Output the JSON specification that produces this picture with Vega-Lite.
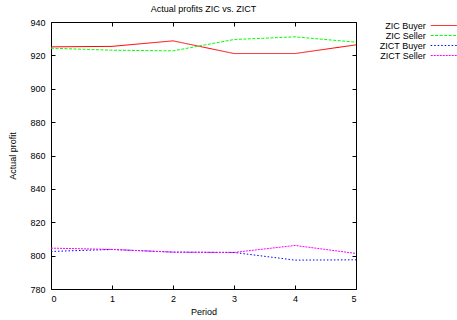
{
  "$schema": "https://vega.github.io/schema/vega-lite/v6.json",
  "autosize": {"type": "none"},
  "padding": {"left": 51, "top": 22, "right": 101, "bottom": 31},
  "width": 305,
  "height": 267,
  "title": {"text": "Actual profits ZIC vs. ZICT", "fontSize": 9, "fontWeight": "normal", "font": "Liberation Sans", "color": "black", "frame": "group", "anchor": "middle", "offset": 4},
  "data": {"values": [
    {"period": 0, "series": "ZIC Buyer", "profit": 925.1},
    {"period": 1, "series": "ZIC Buyer", "profit": 925.4},
    {"period": 2, "series": "ZIC Buyer", "profit": 928.7},
    {"period": 3, "series": "ZIC Buyer", "profit": 921.1},
    {"period": 4, "series": "ZIC Buyer", "profit": 921.1},
    {"period": 5, "series": "ZIC Buyer", "profit": 926.3},
    {"period": 0, "series": "ZIC Seller", "profit": 924.3},
    {"period": 1, "series": "ZIC Seller", "profit": 923.1},
    {"period": 2, "series": "ZIC Seller", "profit": 922.7},
    {"period": 3, "series": "ZIC Seller", "profit": 929.5},
    {"period": 4, "series": "ZIC Seller", "profit": 931.1},
    {"period": 5, "series": "ZIC Seller", "profit": 927.9},
    {"period": 0, "series": "ZICT Buyer", "profit": 802.5},
    {"period": 1, "series": "ZICT Buyer", "profit": 803.7},
    {"period": 2, "series": "ZICT Buyer", "profit": 802.1},
    {"period": 3, "series": "ZICT Buyer", "profit": 801.9},
    {"period": 4, "series": "ZICT Buyer", "profit": 797.3},
    {"period": 5, "series": "ZICT Buyer", "profit": 797.5},
    {"period": 0, "series": "ZICT Seller", "profit": 804.5},
    {"period": 1, "series": "ZICT Seller", "profit": 803.7},
    {"period": 2, "series": "ZICT Seller", "profit": 802.1},
    {"period": 3, "series": "ZICT Seller", "profit": 801.9},
    {"period": 4, "series": "ZICT Seller", "profit": 806.1},
    {"period": 5, "series": "ZICT Seller", "profit": 801.3}
  ]},
  "layer": [
    {
      "mark": {"type": "line", "strokeWidth": 1},
      "encoding": {
        "x": {"field": "period", "type": "quantitative", "scale": {"domain": [0, 5], "nice": false, "zero": false},
              "axis": {"orient": "bottom", "title": "Period", "values": [0, 1, 2, 3, 4, 5], "format": "d", "grid": false, "domain": false, "ticks": false, "tickSize": 0, "labelPadding": 5, "titlePadding": 4}},
        "y": {"field": "profit", "type": "quantitative", "scale": {"domain": [780, 940], "nice": false, "zero": false},
              "axis": {"orient": "left", "title": "Actual profit", "values": [780, 800, 820, 840, 860, 880, 900, 920, 940], "format": "d", "grid": false, "domain": false, "ticks": false, "tickSize": 0, "labelPadding": 6, "titlePadding": 12}},
        "stroke": {"field": "series", "type": "nominal",
                  "scale": {"domain": ["ZIC Buyer", "ZIC Seller", "ZICT Buyer", "ZICT Seller"], "range": ["#ff0000", "#00ff00", "#0000ff", "#ff00ff"]},
                  "legend": {"orient": "none", "legendX": 388.2, "legendY": -1, "title": null, "labelAlign": "right", "labelOffset": -22.5, "symbolType": "M-3.25,0H3.25", "symbolSize": 64, "symbolStrokeWidth": 1, "rowPadding": 0, "labelFontSize": 9, "labelFont": "Liberation Sans", "labelColor": "black", "padding": 0,
                             "symbolStrokeColor": {"expr": "scale('stroke', datum.value)"},
                             "encode": {"symbols": {"update": {"stroke": {"signal": "scale('stroke', datum.value)"}, "strokeDash": {"scale": "strokeDash", "field": "value"}}}}}},
        "strokeDash": {"field": "series", "type": "nominal",
                  "scale": {"domain": ["ZIC Buyer", "ZIC Seller", "ZICT Buyer", "ZICT Seller"], "range": [[1, 0], [3, 1.5], [1.5, 2], [2, 1]]},
                  "legend": null}
      }
    },
    {
      "mark": {"type": "point", "opacity": 0},
      "encoding": {
        "x": {"field": "period", "type": "quantitative", "axis": {"orient": "top", "offset": -267, "title": null, "labels": false, "values": [0, 1, 2, 3, 4, 5], "grid": false, "domain": false, "tickSize": 4}},
        "y": {"field": "profit", "type": "quantitative", "axis": {"orient": "right", "offset": -305, "title": null, "labels": false, "values": [780, 800, 820, 840, 860, 880, 900, 920, 940], "grid": false, "domain": false, "tickSize": 4}}
      }
    },
    {
      "mark": {"type": "point", "opacity": 0},
      "encoding": {
        "x": {"field": "period", "type": "quantitative", "axis": {"orient": "bottom", "offset": -267, "title": null, "labels": false, "values": [0, 1, 2, 3, 4, 5], "grid": false, "domain": false, "tickSize": 4}},
        "y": {"field": "profit", "type": "quantitative", "axis": {"orient": "left", "offset": -305, "title": null, "labels": false, "values": [780, 800, 820, 840, 860, 880, 900, 920, 940], "grid": false, "domain": false, "tickSize": 4}}
      }
    }
  ],
  "resolve": {"axis": {"x": "independent", "y": "independent"}},
  "config": {
    "view": {"stroke": "black", "strokeWidth": 1},
    "axis": {"labelFont": "Liberation Sans", "labelFontSize": 9, "labelColor": "black", "tickColor": "black", "tickWidth": 1, "titleFont": "Liberation Sans", "titleFontSize": 9, "titleFontWeight": "normal", "titleColor": "black"}
  }
}
